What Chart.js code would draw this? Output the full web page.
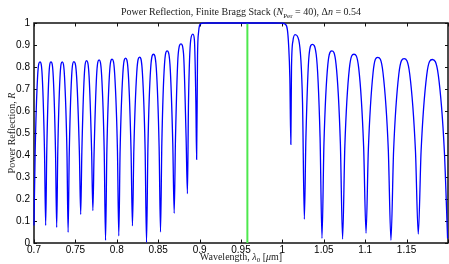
<!DOCTYPE html>
<html><head><meta charset="utf-8">
<script src="https://cdn.jsdelivr.net/npm/chart.js@4.4.1/dist/chart.umd.min.js"></script>
<style>html,body{margin:0;padding:0;background:#fff}canvas{display:block}</style>
</head><body>
<canvas id="c" width="449" height="264"></canvas>
<script>
// Wavelength samples (micrometres)
const wavelength = [
0.7000,0.7014,0.7043,0.7072,0.7100,0.7127,
0.7141,0.7154,0.7179,0.7205,0.7233,0.7260,
0.7274,0.7287,0.7314,0.7341,0.7369,0.7398,
0.7412,0.7426,0.7454,0.7482,0.7515,0.7548,
0.7564,0.7578,0.7607,0.7635,0.7665,0.7696,
0.7711,0.7726,0.7756,0.7786,0.7817,0.7848,
0.7864,0.7880,0.7911,0.7943,0.7975,0.8008,
0.8024,0.8040,0.8073,0.8106,0.8139,0.8172,
0.8189,0.8206,0.8241,0.8275,0.8309,0.8342,
0.8359,0.8376,0.8409,0.8443,0.8477,0.8511,
0.8528,0.8544,0.8576,0.8608,0.8642,0.8676,
0.8693,0.8709,0.8742,0.8775,0.8806,0.8837,
0.8853,0.8866,0.8893,0.8919,0.8937,0.8955,
0.8964,0.8975,0.8988,0.9000,0.9015,0.9040,0.9100,0.9500,0.9900,1.0000,1.0032,1.0060,1.0075,1.0090,
1.0102,1.0110,1.0128,1.0153,1.0198,1.0243,
1.0265,1.0284,1.0323,1.0361,1.0408,1.0455,
1.0478,1.0502,1.0549,1.0596,1.0648,1.0700,
1.0727,1.0754,1.0809,1.0864,1.0922,1.0981,
1.1010,1.1038,1.1095,1.1151,1.1215,1.1279,
1.1311,1.1343,1.1406,1.1470,1.1538,1.1607,
1.1641,1.1675,1.1743,1.1811,1.1883,1.1956,
1.1995];
// Power reflection values
const reflection = [
0.080,0.412,0.753,0.823,0.753,0.412,
0.080,0.412,0.753,0.823,0.753,0.412,
0.071,0.412,0.753,0.823,0.753,0.412,
0.048,0.412,0.754,0.824,0.754,0.412,
0.130,0.415,0.759,0.829,0.759,0.415,
0.147,0.416,0.761,0.832,0.761,0.416,
0.012,0.418,0.765,0.836,0.765,0.418,
0.032,0.420,0.769,0.840,0.769,0.420,
0.078,0.425,0.775,0.845,0.775,0.425,
0.002,0.438,0.794,0.858,0.794,0.438,
0.050,0.454,0.812,0.873,0.812,0.454,
0.135,0.480,0.860,0.905,0.860,0.480,
0.224,0.641,0.924,0.949,0.924,0.641,
0.380,0.850,0.960,0.990,0.997,0.999,1.000,1.000,1.000,0.999,0.995,0.970,0.900,0.750,
0.448,0.800,0.920,0.947,0.922,0.640,
0.108,0.479,0.858,0.903,0.858,0.479,
0.021,0.454,0.812,0.873,0.812,0.454,
0.018,0.438,0.794,0.858,0.794,0.438,
0.044,0.424,0.774,0.844,0.774,0.424,
0.012,0.419,0.767,0.838,0.767,0.419,
0.040,0.417,0.763,0.834,0.763,0.417,
0.020];
// Design (centre) wavelength marker
const markerWavelength = [0.9577, 0.9577];
const markerReflection = [0, 1];
// Tick values
const xTicks = [0.7,0.75,0.8,0.85,0.9,0.95,1,1.05,1.1,1.15,1.2];
const yTicks = [0,0.1,0.2,0.3,0.4,0.5,0.6,0.7,0.8,0.9,1];

const SANS = '"Liberation Sans", Arial, sans-serif';
const SERIF = '"Liberation Serif", "DejaVu Serif", serif';

function fontFor(style, size){
  if(style==='i') return 'italic '+size+'px '+SERIF;
  if(style==='sub') return (size*0.7).toFixed(1)+'px '+SERIF;
  return size+'px '+SERIF;
}
function drawRich(ctx, segs, cx, y, size){
  const w = segs.map(s=>{ctx.font=fontFor(s[1],size);return ctx.measureText(s[0]).width;});
  let x = cx - w.reduce((a,b)=>a+b,0)/2;
  segs.forEach((s,i)=>{
    ctx.font=fontFor(s[1],size);
    ctx.fillText(s[0], x, y + (s[1]==='sub'? size*0.28 : 0));
    x += w[i];
  });
}

const textPlugin = {
  id:'texts',
  afterDraw(chart){
    const ctx = chart.ctx, a = chart.chartArea;
    ctx.save();
    ctx.fillStyle = '#222';
    ctx.textAlign='left'; ctx.textBaseline='alphabetic';
    const cx = (a.left+a.right)/2;
    drawRich(ctx, [['Power Reflection, Finite Bragg Stack (','r'],['N','i'],['Per','sub'],[' = 40), Δ','r'],['n','i'],[' = 0.54','r']], cx, 15, 10);
    drawRich(ctx, [['Wavelength, ','r'],['λ','i'],['0','sub'],[' [','r'],['μ','i'],['m]','r']], cx, 259.5, 10);
    ctx.translate(15, (a.top+a.bottom)/2);
    ctx.rotate(-Math.PI/2);
    drawRich(ctx, [['Power Reflection, ','r'],['R','i']], 0, 0, 10);
    ctx.restore();
  }
};

const framePlugin = {
  id:'frame',
  beforeDatasetsDraw(chart){
    const ctx = chart.ctx, a = chart.chartArea;
    const xs = chart.scales.x, ys = chart.scales.y;
    ctx.save();
    ctx.strokeStyle='#111';
    ctx.lineWidth=1;
    ctx.beginPath();
    xTicks.forEach(v=>{
      const px = Math.round(xs.getPixelForValue(v))+0.5;
      ctx.moveTo(px,a.bottom); ctx.lineTo(px,a.bottom-3.5);
      ctx.moveTo(px,a.top); ctx.lineTo(px,a.top+3.5);
    });
    yTicks.forEach(v=>{
      const py = Math.round(ys.getPixelForValue(v))+0.5;
      ctx.moveTo(a.left,py); ctx.lineTo(a.left+3,py);
      ctx.moveTo(a.right,py); ctx.lineTo(a.right-3,py);
    });
    ctx.stroke();
    ctx.lineWidth=1.5;
    ctx.strokeRect(a.left, a.top, a.right-a.left, a.bottom-a.top);
    ctx.restore();
  }
};

const fmt = v => parseFloat(Number(v).toFixed(2)).toString();

new Chart(document.getElementById('c'), {
  type:'line',
  data:{datasets:[
    {data: wavelength.map((x,i)=>({x:x,y:reflection[i]})), borderColor:'#0000ff', borderWidth:1.3,
     pointRadius:0, cubicInterpolationMode:'monotone', fill:false, clip:3},
    {data: markerWavelength.map((x,i)=>({x:x,y:markerReflection[i]})), borderColor:'#4ee84e', borderWidth:2,
     pointRadius:0, tension:0, fill:false, clip:3}
  ]},
  options:{
    responsive:false, animation:false, devicePixelRatio:1,
    layout:{padding:{top:23,right:1,left:0,bottom:0}},
    plugins:{legend:{display:false}, title:{display:false}, tooltip:{enabled:false}},
    scales:{
      x:{type:'linear', min:0.7, max:1.2,
        afterBuildTicks(s){ s.ticks = xTicks.map(v=>({value:v})); },
        afterFit(s){ s.height = 21; },
        grid:{display:false, drawTicks:false, tickLength:0}, border:{display:false},
        ticks:{autoSkip:false, maxRotation:0, padding:1, color:'#000',
          font:{family:SANS,size:10},
          callback:(v)=> Math.abs(v-1.2)<1e-6 ? '' : fmt(v)}},
      y:{type:'linear', min:0, max:1,
        afterBuildTicks(s){ s.ticks = yTicks.map(v=>({value:v})); },
        afterFit(s){ s.width = 34; },
        grid:{display:false, drawTicks:false, tickLength:0}, border:{display:false},
        ticks:{padding:4, color:'#000', font:{family:SANS,size:10}, callback:(v)=>fmt(v)}}
    }
  },
  plugins:[framePlugin, textPlugin]
});
</script>
</body></html>
